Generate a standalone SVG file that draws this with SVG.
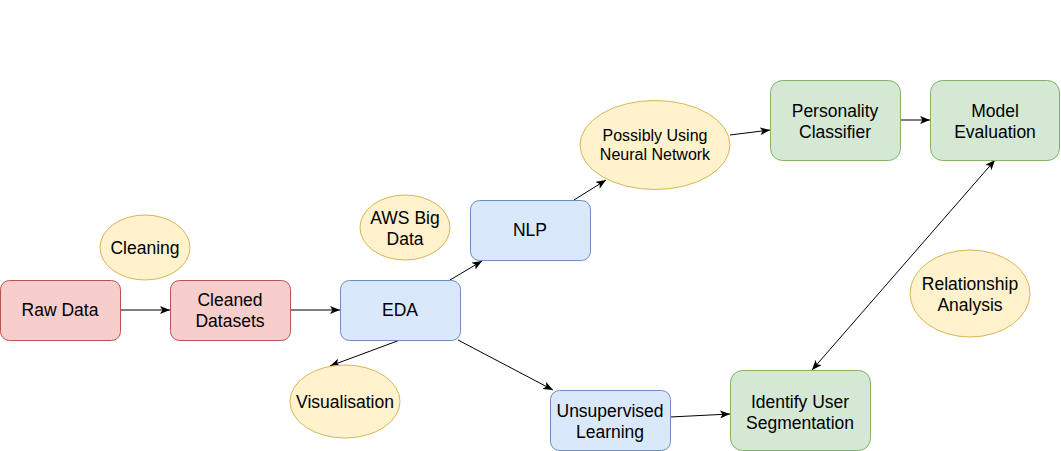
<svg xmlns="http://www.w3.org/2000/svg" width="1061" height="451" viewBox="0 0 1061 451">
<style>
text{font-family:"Liberation Sans",Arial,sans-serif;font-size:17.5px;fill:#000;text-anchor:middle}
text.s{font-size:16px}
.red{fill:#f8cecc;stroke:#b85450}
.blue{fill:#dae8fc;stroke:#6c8ebf}
.green{fill:#d5e8d4;stroke:#82b366}
.yel{fill:#fff2cc;stroke:#d6b656}
.edge{stroke:#000;stroke-width:1;fill:none;marker-end:url(#arr)}
</style>
<defs>
<marker id="arr" viewBox="0 0 10 8" refX="10" refY="4" markerWidth="10" markerHeight="8" markerUnits="userSpaceOnUse" orient="auto-start-reverse">
<path d="M0,0 L10,4 L0,8 L2.5,4 z" fill="#000"/>
</marker>
</defs>
<rect width="1061" height="451" fill="#fff"/>
<g id="connectors">
<line class="edge" x1="120" y1="310" x2="170" y2="310"/>
<line class="edge" x1="290" y1="310" x2="340" y2="310"/>
<line class="edge" x1="400" y1="340" x2="330" y2="366"/>
<line class="edge" x1="450" y1="280" x2="482" y2="261"/>
<line class="edge" x1="458" y1="340" x2="553" y2="390"/>
<line class="edge" x1="574" y1="200" x2="606" y2="180"/>
<line class="edge" x1="730" y1="135" x2="770" y2="130"/>
<line class="edge" x1="900" y1="120" x2="930" y2="120"/>
<line class="edge" x1="670" y1="417" x2="730" y2="414"/>
<line class="edge" style="marker-start:url(#arr)" x1="995" y1="160" x2="812" y2="370"/>
</g>
<g id="raw-data"><rect class="red" x="0.5" y="280.5" width="120" height="60" rx="9"/><text x="60" y="316">Raw Data</text></g>
<g id="cleaning"><ellipse class="yel" cx="145" cy="247.5" rx="45" ry="32.5"/><text x="145" y="254">Cleaning</text></g>
<g id="cleaned-datasets"><rect class="red" x="170.5" y="280.5" width="120" height="60" rx="9"/><text x="230" y="306">Cleaned</text><text x="230" y="327">Datasets</text></g>
<g id="aws"><ellipse class="yel" cx="405" cy="227.5" rx="45" ry="32.5"/><text x="405" y="224">AWS Big</text><text x="405" y="245">Data</text></g>
<g id="eda"><rect class="blue" x="340.5" y="280.5" width="120" height="60" rx="9"/><text x="400" y="316">EDA</text></g>
<g id="visualisation"><ellipse class="yel" cx="345" cy="401.5" rx="55" ry="36.5"/><text x="345" y="408">Visualisation</text></g>
<g id="nlp"><rect class="blue" x="470.5" y="200.5" width="120" height="60" rx="9"/><text x="530" y="236">NLP</text></g>
<g id="neural"><ellipse class="yel" cx="655" cy="145" rx="75" ry="44.5"/><text class="s" x="655" y="141">Possibly Using</text><text class="s" x="655" y="160">Neural Network</text></g>
<g id="personality"><rect class="green" x="770.5" y="80.5" width="130" height="80" rx="12"/><text x="835" y="117">Personality</text><text x="835" y="138">Classifier</text></g>
<g id="model-eval"><rect class="green" x="930.5" y="80.5" width="129" height="80" rx="12"/><text x="995" y="117">Model</text><text x="995" y="138">Evaluation</text></g>
<g id="relationship"><ellipse class="yel" cx="970" cy="293.5" rx="60" ry="43.5"/><text x="970" y="290">Relationship</text><text x="970" y="311">Analysis</text></g>
<g id="unsupervised"><rect class="blue" x="550.5" y="390.5" width="120" height="60" rx="9"/><text x="610" y="417">Unsupervised</text><text x="610" y="438">Learning</text></g>
<g id="segmentation"><rect class="green" x="730.5" y="370.5" width="140" height="80" rx="12"/><text x="800" y="408">Identify User</text><text x="800" y="429">Segmentation</text></g>
</svg>
